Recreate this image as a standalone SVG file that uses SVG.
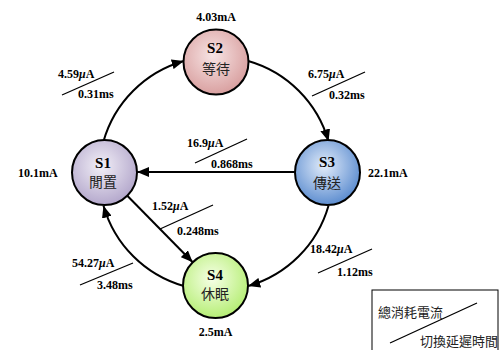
<svg xmlns="http://www.w3.org/2000/svg" width="502" height="350" viewBox="0 0 502 350">
  <style>
    .node { stroke: #000; stroke-width: 2; }
    .edge { fill: none; stroke: #000; stroke-width: 2; marker-end: url(#arrow); }
    .tick { stroke: #000; stroke-width: 1.3; }
    .lbl { font-family: "Liberation Serif", "Times New Roman", serif; font-weight: bold; font-size: 12px; fill: #000; }
    .name { font-family: "Liberation Serif", "Times New Roman", serif; font-weight: bold; font-size: 15px; fill: #000; text-anchor: middle; }
    .cjk { font-family: "Noto Sans CJK TC", "Noto Sans CJK SC", sans-serif; font-size: 14px; fill: #222; text-anchor: middle; }
    .legend { font-family: "Noto Sans CJK TC", "Noto Sans CJK SC", sans-serif; font-size: 13px; fill: #222; }
    .mu { font-style: italic; }
  </style>
  <defs>
    <marker id="arrow" viewBox="0 0 12 10" refX="12" refY="5" markerWidth="12" markerHeight="10" markerUnits="userSpaceOnUse" orient="auto">
      <path d="M0,0 L12,5 L0,10 Z" fill="#000"/>
    </marker>
    <radialGradient id="gS1" cx="0.45" cy="0.4" r="0.6">
      <stop offset="0" stop-color="#f2eff7"/>
      <stop offset="1" stop-color="#b4a8cc"/>
    </radialGradient>
    <radialGradient id="gS2" cx="0.45" cy="0.4" r="0.6">
      <stop offset="0" stop-color="#f7e4e4"/>
      <stop offset="1" stop-color="#d9a0a0"/>
    </radialGradient>
    <radialGradient id="gS3" cx="0.45" cy="0.4" r="0.6">
      <stop offset="0" stop-color="#e2ecfa"/>
      <stop offset="1" stop-color="#5e8ed0"/>
    </radialGradient>
    <radialGradient id="gS4" cx="0.45" cy="0.4" r="0.6">
      <stop offset="0" stop-color="#f6ffe6"/>
      <stop offset="1" stop-color="#b6ee76"/>
    </radialGradient>
  </defs>

  <!-- transitions -->
  <g id="connectors">
    <path class="edge" d="M103.5,141.3 A117,117 0 0 1 183.8,61"/>
    <path class="edge" d="M248.2,61 A117,117 0 0 1 328.5,141.3"/>
    <path class="edge" d="M328.5,205.7 A117,117 0 0 1 248.2,286"/>
    <path class="edge" d="M183.8,286 A117,117 0 0 1 103.5,205.7"/>
    <path class="edge" d="M295,172 L137,172"/>
    <path class="edge" d="M127.3,195.7 L192.7,262.3"/>
  </g>

  <!-- transition costs: current / delay -->
  <g id="edge-labels">
    <text class="lbl" x="58" y="78">4.59<tspan class="mu">μ</tspan>A</text>
    <line class="tick" x1="62" y1="95" x2="114" y2="72"/>
    <text class="lbl" x="78" y="98">0.31ms</text>

    <text class="lbl" x="308" y="78">6.75<tspan class="mu">μ</tspan>A</text>
    <line class="tick" x1="312" y1="96" x2="365" y2="72"/>
    <text class="lbl" x="329" y="99">0.32ms</text>

    <text class="lbl" x="187" y="147">16.9<tspan class="mu">μ</tspan>A</text>
    <line class="tick" x1="195" y1="163" x2="247" y2="139"/>
    <text class="lbl" x="211" y="168">0.868ms</text>

    <text class="lbl" x="152" y="210">1.52<tspan class="mu">μ</tspan>A</text>
    <line class="tick" x1="160" y1="229" x2="213" y2="205"/>
    <text class="lbl" x="177" y="235">0.248ms</text>

    <text class="lbl" x="72" y="267">54.27<tspan class="mu">μ</tspan>A</text>
    <line class="tick" x1="80" y1="285" x2="133" y2="263"/>
    <text class="lbl" x="97" y="289">3.48ms</text>

    <text class="lbl" x="310" y="253">18.42<tspan class="mu">μ</tspan>A</text>
    <line class="tick" x1="318" y1="273" x2="372" y2="249"/>
    <text class="lbl" x="337" y="276">1.12ms</text>
  </g>

  <!-- states -->
  <g id="S1">
    <circle class="node" cx="104.5" cy="172.5" r="32.5" fill="url(#gS1)"/>
    <text class="name" x="103" y="168">S1</text>
    <text class="cjk" x="103" y="187">閒置</text>
    <text class="lbl" x="18" y="177">10.1mA</text>
  </g>
  <g id="S2">
    <circle class="node" cx="216" cy="62" r="32.5" fill="url(#gS2)"/>
    <text class="name" x="215" y="53">S2</text>
    <text class="cjk" x="216" y="74">等待</text>
    <text class="lbl" x="216" y="21" text-anchor="middle">4.03mA</text>
  </g>
  <g id="S3">
    <circle class="node" cx="327.5" cy="172.5" r="32.5" fill="url(#gS3)"/>
    <text class="name" x="327" y="167">S3</text>
    <text class="cjk" x="327" y="188">傳送</text>
    <text class="lbl" x="368" y="177">22.1mA</text>
  </g>
  <g id="S4">
    <circle class="node" cx="215.5" cy="285.5" r="32.5" fill="url(#gS4)"/>
    <text class="name" x="215" y="280">S4</text>
    <text class="cjk" x="215" y="299">休眠</text>
    <text class="lbl" x="215.5" y="336" text-anchor="middle">2.5mA</text>
  </g>

  <!-- legend -->
  <g id="legend">
    <rect x="372" y="290" width="126" height="70" fill="#fff" stroke="#000" stroke-width="1"/>
    <line x1="390" y1="343" x2="477" y2="303" stroke="#000" stroke-width="1.3"/>
    <text class="legend" x="378" y="317">總消耗電流</text>
    <text class="legend" x="420" y="346">切換延遲時間</text>
  </g>
</svg>
